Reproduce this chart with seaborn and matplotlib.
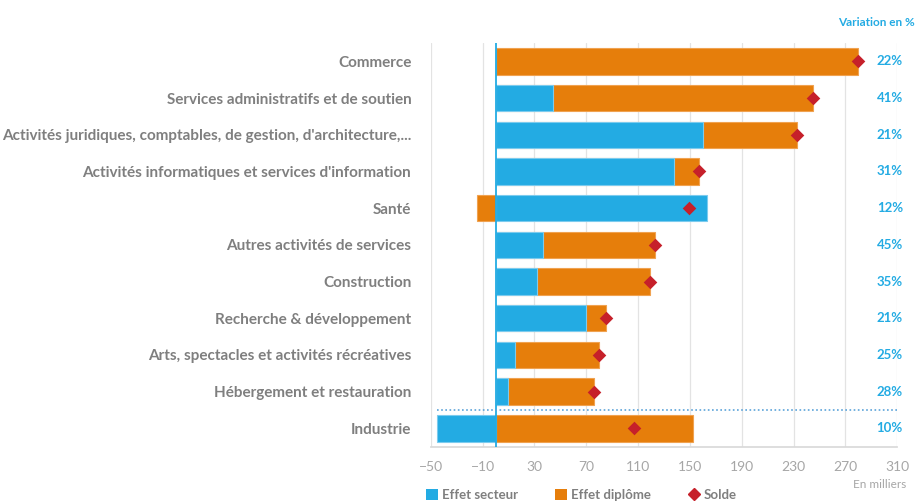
import matplotlib
matplotlib.use("Agg")
import matplotlib.pyplot as plt
import seaborn as sns
import pandas as pd
from matplotlib.patches import Patch
from matplotlib.lines import Line2D

# chart values (thousands)
secteurs = [
    "Commerce",
    "Services administratifs et de soutien",
    "Activités juridiques, comptables, de gestion, d'architecture,...",
    "Activités informatiques et services d'information",
    "Santé",
    "Autres activités de services",
    "Construction",
    "Recherche & développement",
    "Arts, spectacles et activités récréatives",
    "Hébergement et restauration",
    "Industrie",
]
effet_secteur = [0, 44, 160, 138, 163, 37, 32, 70, 15, 10, -45]
effet_diplome = [280, 201, 73, 19, -14, 86, 87, 15, 65, 66, 152]
variation_pct = ["22%", "41%", "21%", "31%", "12%", "45%", "35%", "21%", "25%", "28%", "10%"]
x_ticks = [-50, -10, 30, 70, 110, 150, 190, 230, 270, 310]

BLUE = "#23ABE3"
ORANGE = "#E67E0B"
RED = "#C6202A"
GREY = "#7F7F7F"
LIGHT = "#A6A6A6"

df = pd.DataFrame({"secteur": secteurs, "sect": effet_secteur, "dipl": effet_diplome})
df["solde"] = df["sect"] + df["dipl"]
# orange bar is drawn first, blue on top: stack when both effects are positive
same_sign = (df["sect"] > 0) & (df["dipl"] > 0)
df["orange_end"] = df["dipl"].where(~same_sign, df["solde"])

sns.set_theme(style="white")
plt.rcParams["font.family"] = ["Lato", "DejaVu Sans"]

fig = plt.figure(figsize=(9.17, 5.03), dpi=100)
ax = fig.add_axes([0.4697, 0.1119, 0.5088, 0.8026])

for x in x_ticks:
    ax.axvline(x, color="#E3E3E3", lw=0.9, zorder=0)

sns.barplot(data=df, y="secteur", x="orange_end", orient="h", color=ORANGE,
            width=0.72, edgecolor="#F0A250", linewidth=0.8, saturation=1, ax=ax, zorder=2)
sns.barplot(data=df, y="secteur", x="sect", orient="h", color=BLUE,
            width=0.72, edgecolor="#7CCBEE", linewidth=0.8, saturation=1, ax=ax, zorder=3)
sns.scatterplot(data=df, y="secteur", x="solde", marker="D", color=RED, s=48,
                linewidth=0, ax=ax, zorder=5)

ax.axvline(0, color=BLUE, lw=1.3, zorder=4)
ax.plot([-45, 310], [9.5, 9.5], color="#5BA3D9", lw=1.2, ls=(0, (1, 1.5)), zorder=4)

ax.set_xlim(-50, 310)
ax.set_ylim(10.5, -0.5)
ax.set_xticks(x_ticks)
ax.set_xlabel("")
ax.set_ylabel("")
ax.tick_params(axis="x", colors=LIGHT, labelsize=10, length=0, pad=10)
ax.tick_params(axis="y", length=0, pad=14)
for lab in ax.get_yticklabels():
    lab.set_color(GREY)
    lab.set_fontweight("bold")
    lab.set_fontsize(11)

for side in ["left", "right", "top"]:
    ax.spines[side].set_visible(False)
ax.spines["bottom"].set_color("#D9D9D9")

for i, pct in enumerate(variation_pct):
    ax.text(1.012, i, pct, transform=ax.get_yaxis_transform(), ha="right", va="center",
            color=BLUE, fontsize=9.5, fontweight="bold")

fig.text(0.998, 0.955, "Variation en %", ha="right", va="center", color=BLUE,
         fontsize=8.5, fontweight="bold")
fig.text(0.988, 0.037, "En milliers", ha="right", va="center", color=LIGHT, fontsize=8.5)

handles = [
    Patch(facecolor=BLUE, edgecolor="none", label="Effet secteur"),
    Patch(facecolor=ORANGE, edgecolor="none", label="Effet diplôme"),
    Line2D([], [], marker="D", color=RED, ls="none", markersize=6, label="Solde"),
]
leg = fig.legend(handles=handles, loc="center", bbox_to_anchor=(0.634, 0.016), ncol=3,
                 frameon=False, handlelength=0.9, handleheight=0.9, handletextpad=0.3,
                 columnspacing=2.8, prop={"weight": "bold", "size": 9.5})
for t in leg.get_texts():
    t.set_color(GREY)

fig.savefig("out.png", dpi=100)
